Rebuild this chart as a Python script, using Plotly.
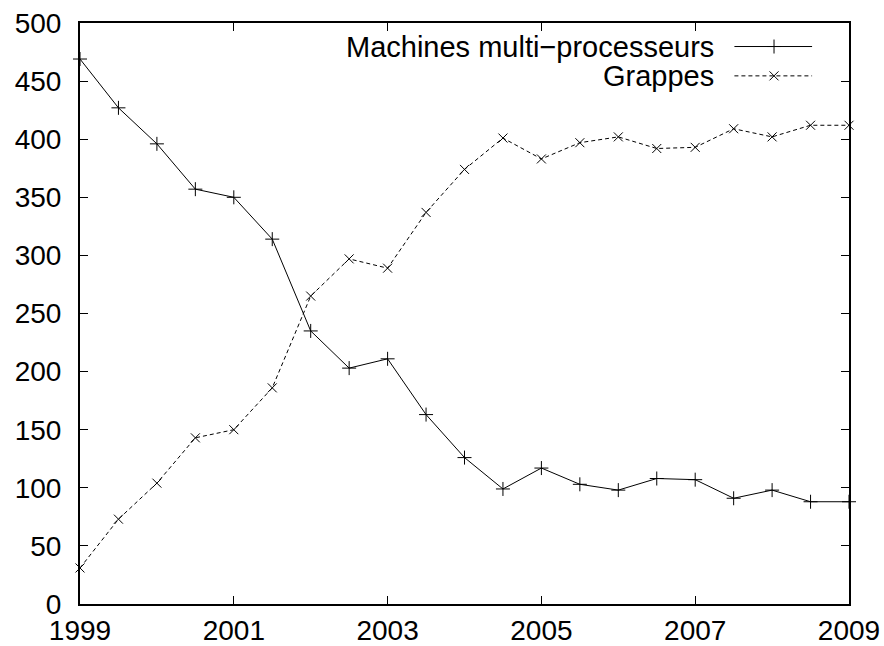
"""Evolution Top500 : machines multi-processeurs vs grappes"""
import plotly.graph_objects as go

annees = [1999, 1999.5, 2000, 2000.5, 2001, 2001.5, 2002, 2002.5, 2003, 2003.5,
          2004, 2004.5, 2005, 2005.5, 2006, 2006.5, 2007, 2007.5, 2008, 2008.5, 2009]
multi = [469, 427, 396, 357, 350, 314, 235, 203, 211, 163,
         126, 99, 117, 103, 98, 108, 107, 91, 98, 88, 88]
grappes = [31, 73, 104, 143, 150, 186, 265, 297, 289, 337,
           374, 401, 383, 397, 402, 392, 393, 409, 402, 412, 412]

noms = ["Machines multi\u2212processeurs", "Grappes"]
x_ticks = [1999, 2001, 2003, 2005, 2007, 2009]

police = "Liberation Sans, Arial, Helvetica, sans-serif"

fig = go.Figure()

"""Courbes principales"""
fig.add_trace(go.Scatter(
    x=annees, y=multi, mode="lines+markers", name=noms[0],
    line=dict(color="black", width=1),
    marker=dict(symbol="cross-thin", size=10, line=dict(color="black", width=1)),
    cliponaxis=False, showlegend=False))
fig.add_trace(go.Scatter(
    x=annees, y=grappes, mode="lines+markers", name=noms[1],
    line=dict(color="black", width=1, dash="4px,3px"),
    marker=dict(symbol="x-thin", size=9, line=dict(color="black", width=1)),
    cliponaxis=False, showlegend=False))

"""Légende style gnuplot : texte à droite, échantillon ensuite"""
leg_y = [0.9595, 0.909]
styles = [("solid", "cross-thin", 10), ("4px,3px", "x-thin", 9)]
for nom, yy, (dash, sym, sz) in zip(noms, leg_y, styles):
    fig.add_trace(go.Scatter(
        x=[0.851, 0.952], y=[yy, yy], mode="lines", xaxis="x2", yaxis="y2",
        line=dict(color="black", width=1, dash=dash), showlegend=False, hoverinfo="skip"))
    fig.add_trace(go.Scatter(
        x=[0.9025], y=[yy], mode="markers", xaxis="x2", yaxis="y2",
        marker=dict(symbol=sym, size=sz, line=dict(color="black", width=1)),
        showlegend=False, hoverinfo="skip"))
    fig.add_annotation(x=0.827, y=yy, xref="paper", yref="paper", text=nom,
                       showarrow=False, xanchor="right", yanchor="middle",
                       font=dict(size=29, color="black", family=police))

axe = dict(showline=True, linecolor="black", linewidth=2, mirror="ticks",
           ticks="inside", ticklen=8, tickwidth=1, tickcolor="black",
           showgrid=False, zeroline=False, automargin=False,
           tickfont=dict(size=28, color="black", family=police))

fig.update_layout(
    width=884, height=646,
    margin=dict(l=80, r=35, t=23, b=42),
    plot_bgcolor="white", paper_bgcolor="white",
    xaxis=dict(range=[1999, 2009], tickvals=x_ticks, ticklabelstandoff=0, **axe),
    yaxis=dict(range=[0, 500], dtick=50, ticklabelstandoff=11, **axe),
    xaxis2=dict(range=[0, 1], overlaying="x", visible=False),
    yaxis2=dict(range=[0, 1], overlaying="y", visible=False),
)

"""Pas de marge de page autour de la figure, pas de barre d'outils"""
fig.write_html("out.html", config={"displayModeBar": False},
               post_script="document.body.style.margin='0';document.body.style.overflow='hidden';")
